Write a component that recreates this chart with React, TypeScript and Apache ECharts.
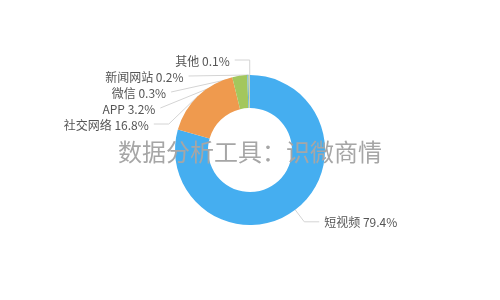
import React, { useEffect, useRef } from "react";
import * as echarts from "echarts";

const categories = ["短视频", "社交网络", "APP", "微信", "新闻网站", "其他"];
const values = [79.4, 16.8, 3.2, 0.3, 0.2, 0.1];
const colors = ["#45aef0", "#ef9a4e", "#a3c75d", "#6fb8d8", "#f2c94c", "#8cc9e8"];
const watermark = "数据分析工具：识微商情";

export default function App() {
  const ref = useRef<HTMLDivElement>(null);
  useEffect(() => {
    if (!ref.current) return;
    const chart = echarts.init(ref.current, undefined, { renderer: "svg" });
    chart.setOption({
      animation: false,
      color: colors,
      textStyle: { fontFamily: "'Microsoft YaHei', 'Noto Sans CJK SC', sans-serif" },
      series: [
        {
          type: "pie",
          radius: ["28%", "50%"],
          center: ["50%", "50%"],
          startAngle: 90,
          clockwise: true,
          data: categories.map((n, i) => ({ name: n, value: values[i] })),
          label: {
            formatter: (p: any) => `${p.name} ${values[p.dataIndex].toFixed(1)}%`,
            color: "#555",
            fontSize: 12,
            lineHeight: 14,
          },
          labelLine: { lineStyle: { color: "#d4d4d4", width: 1 }, length: 15, length2: 15 },
        },
      ],
      graphic: [
        {
          type: "text",
          left: "center",
          top: "middle",
          z: 100,
          style: {
            text: watermark,
            fill: "#a6a6a6",
            fontSize: 24,
            fontFamily: "'Microsoft YaHei', 'Noto Sans CJK SC', sans-serif",
          },
        },
      ],
    });
    return () => chart.dispose();
  }, []);
  return (
    <div
      ref={ref}
      style={{ position: "fixed", left: 0, top: 0, width: 500, height: 300 }}
    />
  );
}
